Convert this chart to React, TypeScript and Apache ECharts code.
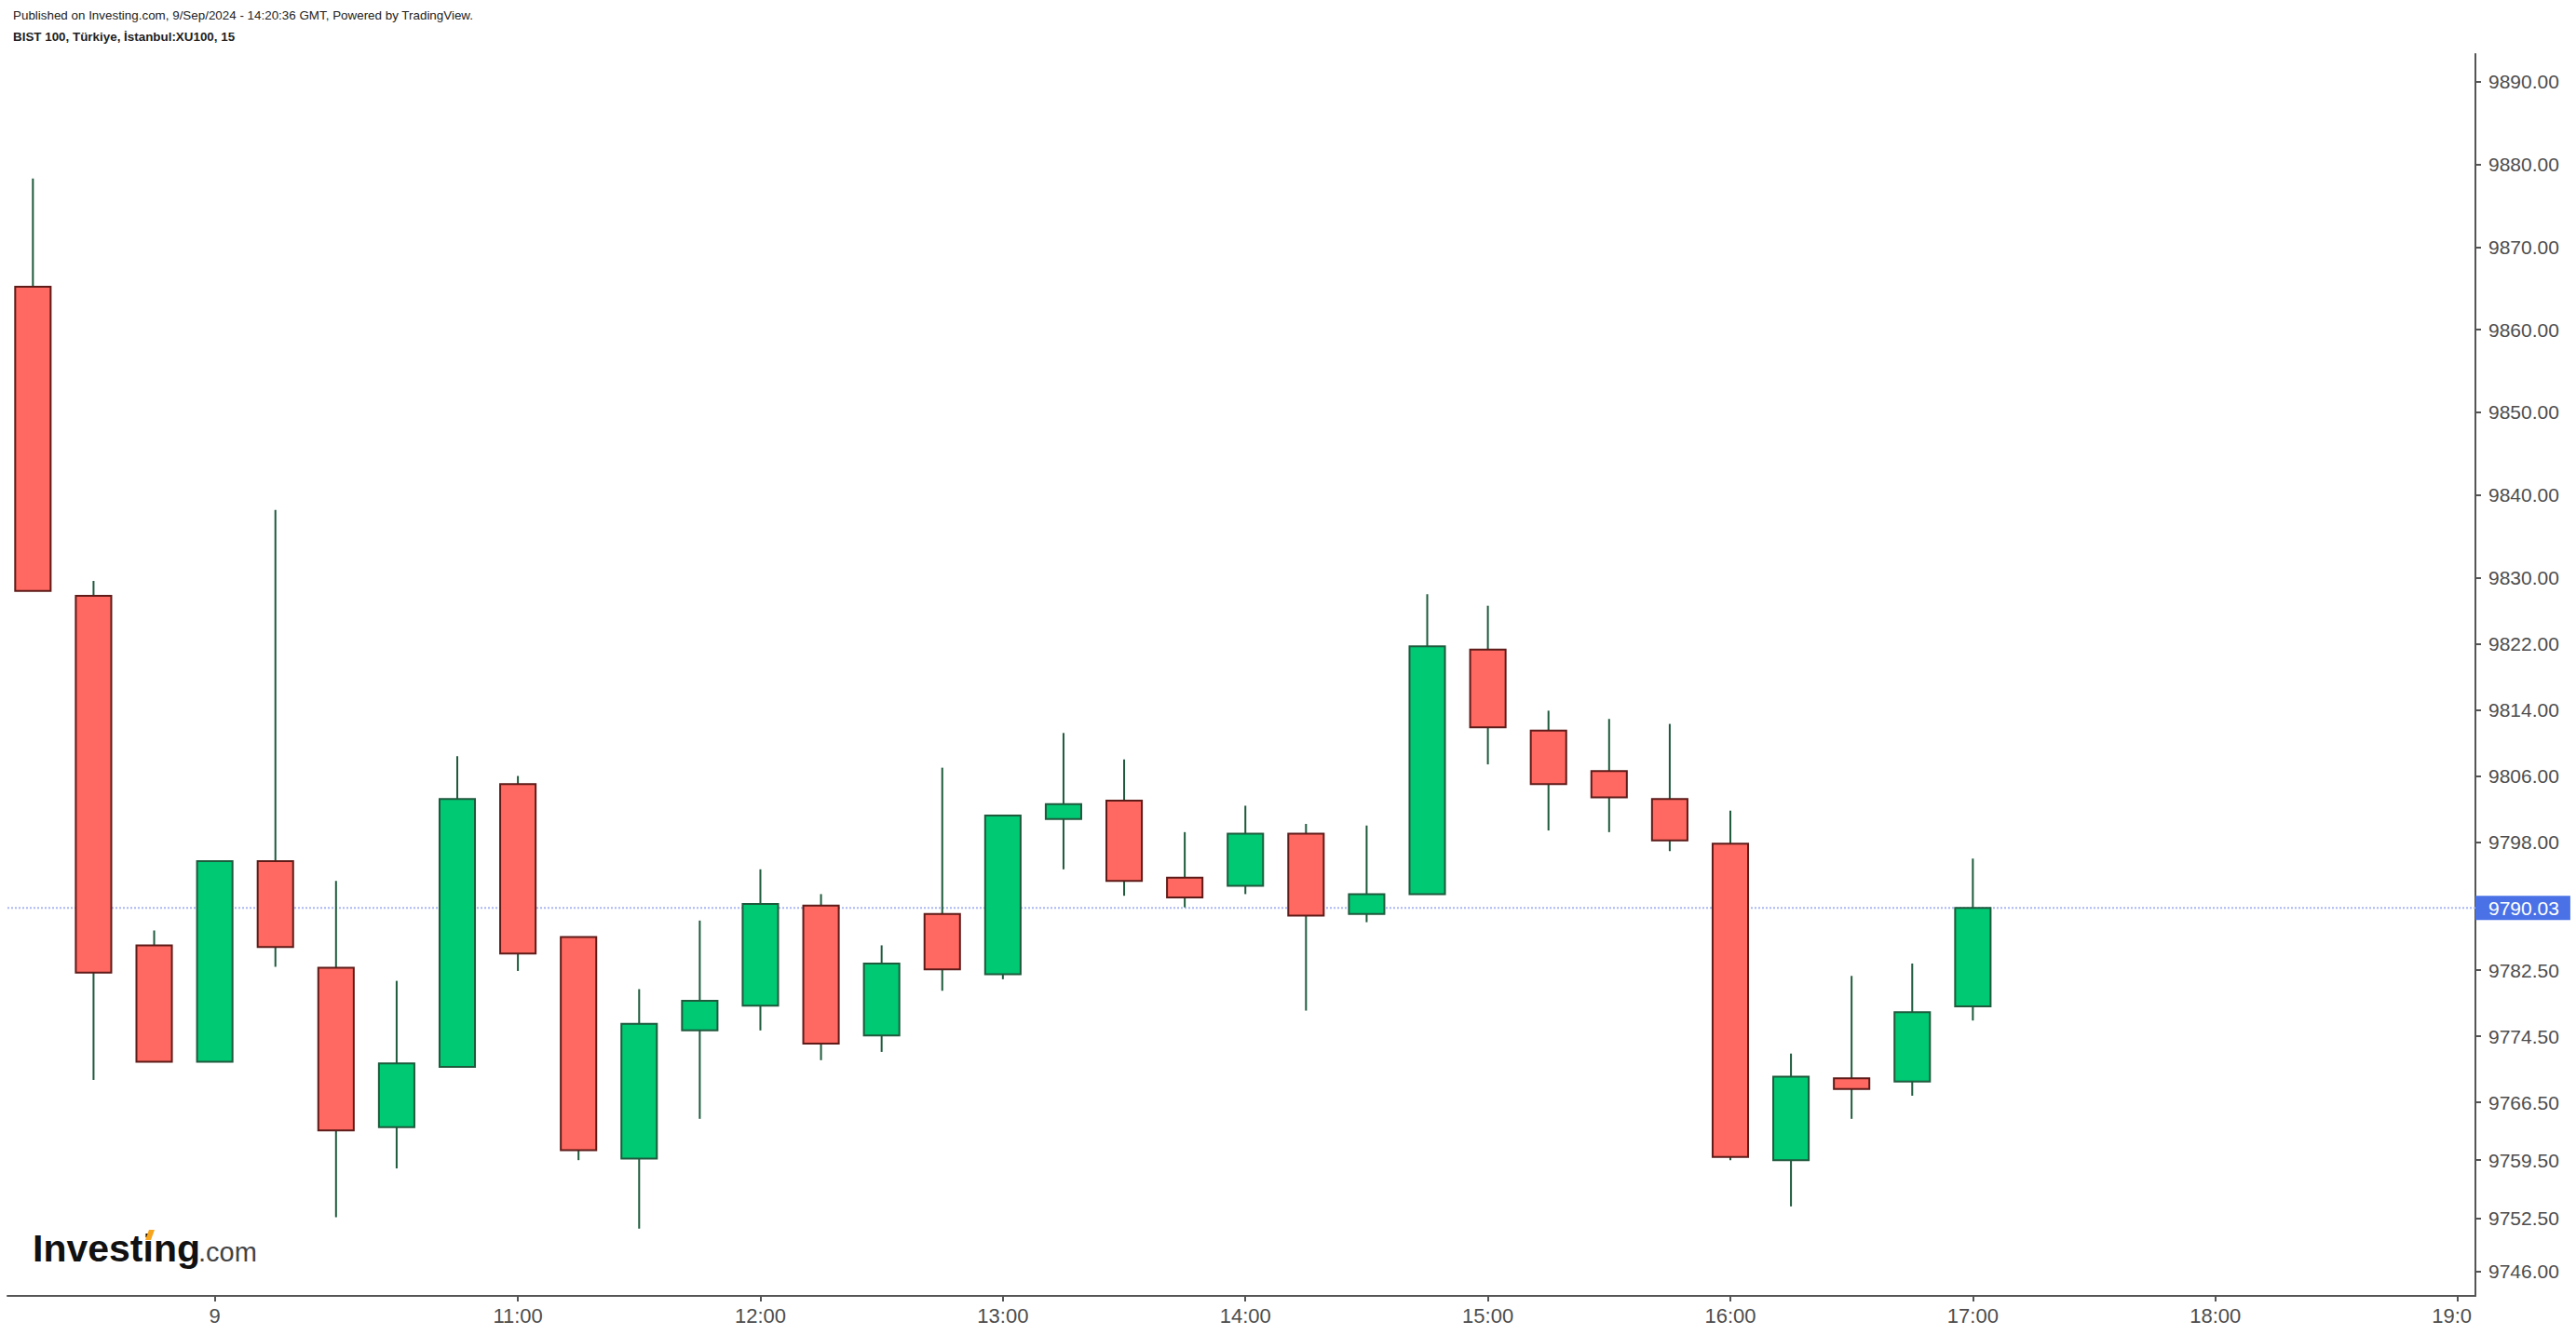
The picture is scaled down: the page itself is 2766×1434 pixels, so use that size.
import React, { useEffect, useRef } from "react";
import * as echarts from "echarts";

// ---- data ----
const opens = [9865.2, 9827.8, 9785.5, 9771.4, 9795.7, 9782.8, 9763.5, 9770.8, 9805.0, 9786.5, 9759.7, 9775.2, 9778.2, 9790.3, 9774.6, 9789.3, 9782.0, 9800.8, 9803.0, 9793.7, 9792.7, 9799.0, 9789.3, 9791.7, 9821.3, 9811.5, 9806.6, 9803.2, 9797.8, 9759.5, 9769.4, 9769.0, 9778.1];
const closes = [9828.4, 9782.2, 9771.4, 9795.7, 9785.3, 9763.1, 9771.2, 9803.2, 9784.5, 9760.7, 9776.0, 9778.8, 9790.5, 9773.6, 9783.3, 9782.6, 9801.2, 9802.6, 9793.3, 9791.3, 9799.0, 9789.1, 9791.7, 9821.7, 9811.9, 9805.0, 9803.4, 9798.2, 9759.9, 9769.6, 9768.1, 9777.4, 9790.03];
const lows = [9828.4, 9769.2, 9771.4, 9771.4, 9782.9, 9752.6, 9758.5, 9770.8, 9782.4, 9759.5, 9751.2, 9764.5, 9775.2, 9771.6, 9772.6, 9780.0, 9781.4, 9794.7, 9791.5, 9790.1, 9791.7, 9777.6, 9788.3, 9791.7, 9807.4, 9799.4, 9799.2, 9796.9, 9759.5, 9753.9, 9764.5, 9767.3, 9776.4];
const highs = [9878.3, 9829.6, 9787.3, 9795.7, 9838.2, 9793.3, 9781.2, 9808.4, 9806.0, 9786.5, 9780.2, 9788.5, 9794.7, 9791.7, 9785.5, 9807.0, 9801.2, 9811.2, 9808.0, 9799.2, 9802.4, 9800.2, 9800.0, 9828.0, 9826.6, 9813.9, 9812.9, 9812.3, 9801.8, 9772.4, 9781.8, 9783.3, 9796.0];

const lastPrice = 9790.03;

// x axis: bar slot index of each time tick, and its label
const xTickSlots = [3, 8, 12, 16, 20, 24, 28, 32, 36, 40];
const xLabelSlots = [3, 8, 12, 16, 20, 24, 28, 32, 36, 39.9];
const xLabels = ["9", "11:00", "12:00", "13:00", "14:00", "15:00", "16:00", "17:00", "18:00", "19:0"];

// y axis tick values
const yTicks = [9890, 9880, 9870, 9860, 9850, 9840, 9830, 9822, 9814, 9806, 9798, 9782.5, 9774.5, 9766.5, 9759.5, 9752.5, 9746];

const headerLine1 = "Published on Investing.com, 9/Sep/2024 - 14:20:36 GMT, Powered by TradingView.";
const headerLine2 = "BIST 100, Türkiye, İstanbul:XU100, 15";

// ---- view ----
const X_MIN = -0.42;
const X_MAX = 40.29;
const Y_MIN = 9743.07;
const Y_MAX = 9893.38;

const UP_FILL = "#00c974";
const UP_BORDER = "#1e5a3c";
const DOWN_FILL = "#ff6961";
const DOWN_BORDER = "#5e1b18";
const WICK = "#1e5a3c";
const AXIS = "#555555";
const LABEL = "#4d4d4d";
const FONT = '"Liberation Sans", Arial, sans-serif';

export default function App() {
  const ref = useRef<HTMLDivElement>(null);

  useEffect(() => {
    if (!ref.current) return;
    const chart = echarts.init(ref.current, undefined, { renderer: "svg" });

    const candleData = opens.map((o, i) => [i, o, closes[i], lows[i], highs[i]]);

    const option: any = {
      animation: false,
      backgroundColor: "#ffffff",
      grid: { left: 8, right: 108, top: 58, bottom: 42, containLabel: false },
      xAxis: {
        type: "value",
        min: X_MIN,
        max: X_MAX,
        axisLine: { show: true, onZero: false, lineStyle: { color: AXIS, width: 2 } },
        axisTick: {
          show: true,
          customValues: xTickSlots,
          length: 6,
          lineStyle: { color: AXIS, width: 2 },
        },
        axisLabel: {
          customValues: xLabelSlots,
          formatter: (v: number) => {
            const k = xLabelSlots.findIndex((s) => Math.abs(s - v) < 1e-6);
            return k >= 0 ? xLabels[k] : "";
          },
          fontSize: 22,
          fontFamily: FONT,
          color: LABEL,
          margin: 10,
        },
        splitLine: { show: false },
      },
      yAxis: {
        type: "value",
        position: "right",
        min: Y_MIN,
        max: Y_MAX,
        scale: true,
        axisLine: { show: true, onZero: false, lineStyle: { color: AXIS, width: 2 } },
        axisTick: {
          show: true,
          customValues: yTicks,
          length: 6,
          lineStyle: { color: AXIS, width: 2 },
        },
        axisLabel: {
          customValues: [...yTicks, lastPrice],
          margin: 0,
          formatter: (v: number) =>
            Math.abs(v - lastPrice) < 1e-6 ? `{p|${v.toFixed(2)}}` : `{n|${v.toFixed(2)}}`,
          rich: {
            n: { fontSize: 21, fontFamily: FONT, color: LABEL, padding: [0, 0, 0, 14] },
            p: {
              fontSize: 21,
              fontFamily: FONT,
              color: "#ffffff",
              backgroundColor: "#4a72e6",
              padding: [3, 12, 2, 14],
            },
          },
        },
        splitLine: { show: false },
      },
      series: [
        {
          type: "line",
          data: [
            [X_MIN, lastPrice],
            [X_MAX, lastPrice],
          ],
          showSymbol: false,
          silent: true,
          z: 1,
          lineStyle: { color: "#aab8f2", width: 2, type: [2, 2] },
        },
        {
          type: "custom",
          z: 2,
          data: candleData,
          encode: { x: 0, y: [1, 2, 3, 4] },
          renderItem: (params: any, api: any) => {
            const x = api.value(0);
            const o = api.value(1);
            const c = api.value(2);
            const l = api.value(3);
            const h = api.value(4);
            const pO = api.coord([x, o]);
            const pC = api.coord([x, c]);
            const pL = api.coord([x, l]);
            const pH = api.coord([x, h]);
            const w = api.size([1, 0])[0] * 0.585;
            const up = c >= o;
            const top = Math.min(pO[1], pC[1]);
            const bot = Math.max(pO[1], pC[1]);
            return {
              type: "group",
              children: [
                {
                  type: "line",
                  shape: { x1: pH[0], y1: pH[1], x2: pL[0], y2: pL[1] },
                  style: { stroke: WICK, lineWidth: 2 },
                },
                {
                  type: "rect",
                  shape: { x: pO[0] - w / 2, y: top, width: w, height: Math.max(bot - top, 1) },
                  style: {
                    fill: up ? UP_FILL : DOWN_FILL,
                    stroke: up ? UP_BORDER : DOWN_BORDER,
                    lineWidth: 2,
                  },
                },
              ],
            };
          },
        },
      ],
      graphic: [
        {
          type: "text",
          x: 14,
          y: 16,
          style: {
            text: headerLine1,
            font: '13.4px "Liberation Sans", Arial, sans-serif',
            fill: "#222222",
            align: "left",
            verticalAlign: "middle",
          },
        },
        {
          type: "text",
          x: 14,
          y: 39,
          style: {
            text: headerLine2,
            font: 'bold 13.4px "Liberation Sans", Arial, sans-serif',
            fill: "#222222",
            align: "left",
            verticalAlign: "middle",
          },
        },
        {
          type: "text",
          x: 35,
          y: 1341,
          style: {
            text: "Investing",
            font: 'bold 41px "Liberation Sans", Arial, sans-serif',
            fill: "#111111",
            align: "left",
            verticalAlign: "middle",
          },
        },
        {
          type: "polygon",
          shape: {
            points: [
              [156, 1332],
              [160, 1321],
              [166, 1321],
              [162, 1332],
            ],
          },
          style: { fill: "#f6a51c" },
        },
        {
          type: "text",
          x: 213,
          y: 1345,
          style: {
            text: ".com",
            font: '29px "Liberation Sans", Arial, sans-serif',
            fill: "#444444",
            align: "left",
            verticalAlign: "middle",
          },
        },
      ],
    };

    chart.setOption(option);
    return () => chart.dispose();
  }, []);

  return (
    <div
      ref={ref}
      style={{ position: "fixed", left: 0, top: 0, width: 2766, height: 1434, background: "#fff" }}
    />
  );
}
